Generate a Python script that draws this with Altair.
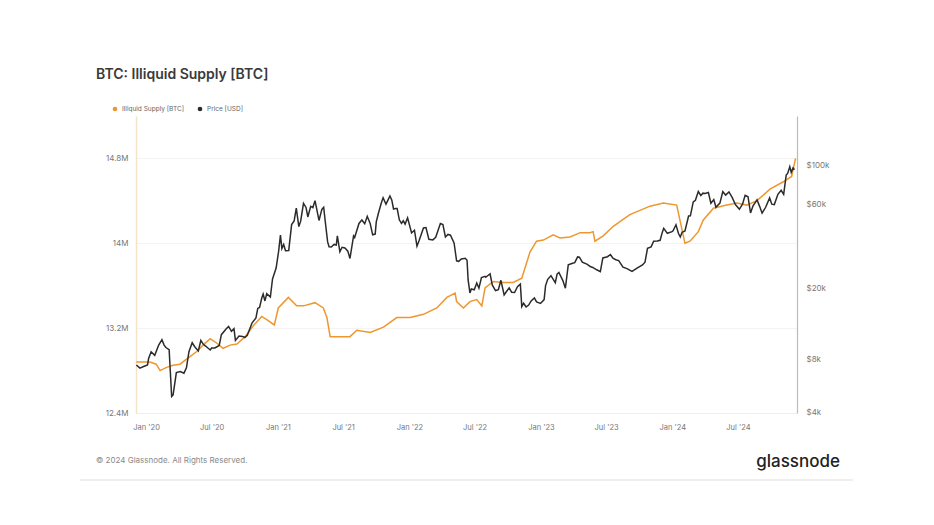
import altair as alt
import pandas as pd

# ---------------- data ----------------
SUPPLY_DATES = ["2019-12-05","2019-12-20","2020-01-12","2020-01-29","2020-02-09","2020-02-27","2020-03-16","2020-04-04","2020-04-27","2020-05-21",
                "2020-06-07","2020-06-27","2020-07-15","2020-08-02","2020-08-21","2020-09-09","2020-10-02","2020-10-24","2020-11-17","2020-12-01",
                "2020-12-22","2021-01-02","2021-01-30","2021-02-22","2021-03-13","2021-04-14","2021-05-07","2021-05-17","2021-05-26","2021-06-13",
                "2021-07-20","2021-08-08","2021-09-14","2021-10-21","2021-11-27","2022-01-03","2022-02-09","2022-03-18","2022-04-15","2022-05-08",
                "2022-05-12","2022-05-31","2022-06-18","2022-07-07","2022-07-21","2022-07-30","2022-08-22","2022-09-19","2022-10-16","2022-11-09",
                "2022-12-02","2022-12-20","2023-01-08","2023-02-04","2023-02-23","2023-03-23","2023-04-20","2023-05-17","2023-05-26","2023-05-31",
                "2023-06-23","2023-07-21","2023-09-05","2023-10-31","2023-12-07","2024-01-13","2024-01-27","2024-02-05","2024-02-19","2024-03-13",
                "2024-03-27","2024-04-24","2024-05-31","2024-06-28","2024-07-25","2024-08-22","2024-09-28","2024-11-04","2024-11-27","2024-12-08"]
SUPPLY_M = [12.88,12.88,12.88,12.86,12.80,12.83,12.85,12.86,12.92,12.98,
            13.04,13.10,13.06,13.01,13.04,13.05,13.12,13.22,13.31,13.28,
            13.23,13.39,13.49,13.41,13.41,13.44,13.39,13.30,13.12,13.12,
            13.12,13.18,13.16,13.21,13.30,13.30,13.33,13.39,13.49,13.53,
            13.45,13.39,13.45,13.47,13.41,13.58,13.64,13.63,13.63,13.67,
            13.92,14.02,14.03,14.08,14.05,14.06,14.10,14.10,14.11,14.02,
            14.07,14.16,14.27,14.35,14.38,14.36,14.14,14.00,14.02,14.11,
            14.22,14.33,14.36,14.38,14.36,14.40,14.51,14.58,14.63,14.80]

PRICE_DATES = ["2019-12-05","2019-12-15","2019-12-25","2020-01-05","2020-01-15","2020-01-25","2020-02-05","2020-02-14","2020-02-25","2020-03-05",
               "2020-03-12","2020-03-16","2020-03-25","2020-04-05","2020-04-15","2020-04-29","2020-05-08","2020-05-15","2020-05-25","2020-06-01",
               "2020-06-15","2020-06-27","2020-07-10","2020-07-22","2020-07-28","2020-08-10","2020-08-17","2020-08-25","2020-09-05","2020-09-15",
               "2020-09-25","2020-10-08","2020-10-21","2020-11-01","2020-11-06","2020-11-17","2020-11-26","2020-12-01","2020-12-11","2020-12-17",
               "2020-12-27","2021-01-03","2021-01-08","2021-01-12","2021-01-22","2021-01-31","2021-02-08","2021-02-21","2021-02-28","2021-03-13",
               "2021-03-25","2021-04-02","2021-04-14","2021-04-25","2021-05-08","2021-05-12","2021-05-19","2021-05-29","2021-06-06","2021-06-15",
               "2021-06-22","2021-07-06","2021-07-20","2021-07-30","2021-08-14","2021-08-22","2021-09-06","2021-09-21","2021-10-01","2021-10-15",
               "2021-10-20","2021-10-28","2021-11-08","2021-11-18","2021-11-28","2021-12-04","2021-12-15","2021-12-27","2022-01-07","2022-01-22",
               "2022-02-09","2022-02-24","2022-03-07","2022-03-28","2022-04-11","2022-04-25","2022-05-05","2022-05-12","2022-05-25","2022-06-05",
               "2022-06-13","2022-06-18","2022-06-30","2022-07-13","2022-07-30","2022-08-13","2022-08-19","2022-09-05","2022-09-12","2022-09-21",
               "2022-10-05","2022-10-20","2022-11-05","2022-11-09","2022-11-21","2022-12-05","2022-12-20","2022-12-31","2023-01-10","2023-01-14",
               "2023-01-29","2023-02-10","2023-02-20","2023-03-10","2023-03-18","2023-03-30","2023-04-13","2023-04-26","2023-05-10","2023-05-25",
               "2023-06-15","2023-06-22","2023-07-13","2023-07-28","2023-08-17","2023-09-11","2023-09-25","2023-10-10","2023-10-24","2023-11-10",
               "2023-11-28","2023-12-08","2023-12-18","2023-12-31","2024-01-11","2024-01-23","2024-02-05","2024-02-15","2024-02-28","2024-03-13",
               "2024-03-20","2024-04-01","2024-04-17","2024-05-01","2024-05-20","2024-06-06","2024-06-24","2024-07-05","2024-07-21","2024-08-05",
               "2024-08-23","2024-09-06","2024-09-27","2024-10-10","2024-10-29","2024-11-05","2024-11-12","2024-11-22","2024-11-26","2024-12-05"]
PRICE_USD = [7400,7100,7250,7400,8800,8400,9600,10300,9300,9050,
             4900,5000,6700,6800,6650,8800,9900,9400,8900,10200,
             9450,9000,9250,9550,11000,11850,12250,11500,10200,10800,
             10750,10900,12800,13700,15500,17700,17100,18800,18000,22800,
             26300,32800,40500,33900,33000,33100,46400,57500,45200,61200,
             51300,58900,63500,49000,58200,49100,37000,34600,35800,40100,
             32500,34200,29800,40000,47100,49300,51700,40600,48100,61500,
             65900,60600,67500,56900,57200,49400,48800,50700,41600,35000,
             44400,38300,38000,47100,39500,40400,36500,28900,29600,29900,
             22500,19000,19800,20200,23600,24400,21100,19800,22400,18500,
             20300,19100,21300,15900,15800,17100,16900,16550,17400,20900,
             23800,21700,24800,20200,27400,28000,30400,28400,27600,26500,
             25100,30000,31400,29300,26600,25200,26300,27400,34000,37300,
             37800,44200,41400,42300,46300,39500,42700,51900,62400,71500,
             67900,69700,61300,58200,71400,71100,60300,56700,68100,54000,
             64100,53900,65800,60300,72700,68900,88600,98900,91900,95000]

# extra in-between price readings (the line is sorted by date when drawn)
PRICE_DATES_B = ["2020-01-08","2020-02-20","2020-04-22","2020-06-08","2020-07-01","2020-09-01","2020-10-01","2020-11-11","2020-11-21",
                 "2021-01-17","2021-02-15","2021-03-05","2021-03-20","2021-04-08","2021-05-03","2021-05-23","2021-06-12","2021-06-28",
                 "2021-07-14","2021-08-02","2021-08-30","2021-09-14","2021-09-28","2021-10-07","2021-11-13","2021-11-24","2021-12-10",
                 "2021-12-20","2022-01-15","2022-01-28","2022-02-16","2022-03-15","2022-04-04","2022-04-18","2022-05-18","2022-06-10",
                 "2022-06-22","2022-07-07","2022-07-20","2022-08-01","2022-08-28","2022-09-28","2022-10-12","2022-10-28","2022-11-14",
                 "2022-11-28","2022-12-14","2023-01-20","2023-02-15","2023-03-03","2023-04-05","2023-04-18","2023-05-18","2023-06-05",
                 "2023-07-05","2023-07-20","2023-08-05","2023-08-28","2023-10-17","2023-11-03","2023-11-20","2023-12-04","2024-01-03",
                 "2024-01-18","2024-01-28","2024-02-20","2024-03-05","2024-03-26","2024-04-10","2024-04-25","2024-05-12","2024-05-28",
                 "2024-06-15","2024-07-14","2024-07-29","2024-08-12","2024-08-30","2024-09-16","2024-10-03","2024-10-20","2024-11-16",
                 "2024-12-01"]
PRICE_USD_B = [8050,9600,7130,9700,9230,11900,10600,15700,18700,
               35800,48700,48400,58100,58000,56600,34700,35500,34500,
               32800,39200,46900,47100,41000,53800,64100,57200,47100,
               46700,43100,37700,44600,39300,46400,40800,28700,29100,
               20000,21600,23200,23300,19600,19400,19150,20600,16600,
               16200,17800,22700,24300,22300,28200,30300,26800,25700,
               30500,29900,29000,26100,28400,34700,37400,41900,42800,
               41300,42000,52000,63800,70000,70600,64300,61500,68300,
               66200,60800,66800,59300,59100,58200,60600,69000,90600,
               97300]

SERIES = ["Illiquid Supply [BTC]", "Price [USD]"]
COLORS = ["#f0962e", "#2b2b2b"]
SUPPLY_TICKS = [12.4e6, 13.2e6, 14.0e6, 14.8e6]
PRICE_TICKS = [4000, 8000, 20000, 60000, 100000]
TITLE = "BTC: Illiquid Supply [BTC]"
FOOTER = "© 2024 Glassnode. All Rights Reserved."
BRAND = "glassnode"

assert len(SUPPLY_DATES) == len(SUPPLY_M)
assert len(PRICE_DATES) == len(PRICE_USD)
assert len(PRICE_DATES_B) == len(PRICE_USD_B)

supply_df = pd.DataFrame({"date": SUPPLY_DATES, "value": [v * 1e6 for v in SUPPLY_M]})
price_df = pd.DataFrame({"date": PRICE_DATES + PRICE_DATES_B, "value": PRICE_USD + PRICE_USD_B})
price_df = price_df.sort_values("date").reset_index(drop=True)

FONT = "Inter"
W, H = 661, 297

x_scale = alt.Scale(type="utc", domain=[alt.DateTime(year=2019, month=12, date=4, utc=True),
                                         alt.DateTime(year=2024, month=12, date=12, utc=True)])
x_ticks = []
for yr in range(2020, 2025):
    x_ticks.append(alt.DateTime(year=yr, month=1, date=1, utc=True))
    x_ticks.append(alt.DateTime(year=yr, month=7, date=1, utc=True))

x_axis = alt.Axis(values=x_ticks, labelExpr="utcFormat(datum.value, \"%b '%y\")", title=None,
                  ticks=False, grid=False, domain=True, domainColor="#eeeeee",
                  labelFont=FONT, labelFontSize=7.5, labelColor="#777777", labelPadding=10)

color_scale = alt.Scale(domain=SERIES, range=COLORS)

supply_line = alt.Chart(supply_df).mark_line(strokeWidth=1.5, interpolate="linear").encode(
    x=alt.X("date:T", scale=x_scale, axis=x_axis),
    y=alt.Y("value:Q", scale=alt.Scale(domain=[12.4e6, 15.2e6], nice=False, zero=False),
            axis=alt.Axis(orient="left", values=SUPPLY_TICKS, format="~s", title=None, ticks=False,
                          domainColor="#f5e3c8", domainWidth=1.5, gridColor="#f3f3f3",
                          labelFont=FONT, labelFontSize=8, labelColor="#777777", labelPadding=8)),
    color=alt.Color("s:N", scale=color_scale, legend=None),
).transform_calculate(s=f"'{SERIES[0]}'")

price_line = alt.Chart(price_df).mark_line(strokeWidth=1.5, interpolate="linear").encode(
    x=alt.X("date:T", scale=x_scale, axis=x_axis),
    y=alt.Y("value:Q", scale=alt.Scale(type="log", domain=[3950, 192000], nice=False),
            axis=alt.Axis(orient="right", values=PRICE_TICKS,
                          labelExpr="'$' + format(datum.value / 1000, 'd') + 'k'", title=None, ticks=False,
                          domainColor="#bbbbbb", domainWidth=1.2, gridColor="#f3f3f3",
                          labelFont=FONT, labelFontSize=8, labelColor="#777777", labelPadding=9)),
    color=alt.Color("s:N", scale=color_scale, legend=None),
).transform_calculate(s=f"'{SERIES[1]}'")

# legend (dots coloured through the shared colour scale)
legend_layers = []
for name, dot_x in zip(SERIES, [-21, 64]):
    ldf = pd.DataFrame({"s": [name]})
    legend_layers.append(alt.Chart(ldf).mark_circle(size=22, opacity=1).encode(
        x=alt.value(dot_x), y=alt.value(-7), color=alt.Color("s:N", scale=color_scale, legend=None)))
    legend_layers.append(alt.Chart(ldf).mark_text(
        align="left", baseline="middle", font=FONT, fontSize=6.5, color="#666666"
    ).encode(text="s:N", x=alt.value(dot_x + 7), y=alt.value(-7)))

title_txt = alt.Chart(pd.DataFrame({"t": [TITLE]})).mark_text(
    align="left", baseline="alphabetic", font=FONT, fontSize=14, fontWeight=600, color="#3a3a3a"
).encode(text="t:N", x=alt.value(-40), y=alt.value(-37))

footer_txt = alt.Chart(pd.DataFrame({"t": [FOOTER]})).mark_text(
    align="left", baseline="middle", font=FONT, fontSize=8, color="#8a8a8a"
).encode(text="t:N", x=alt.value(-40), y=alt.value(345))

brand_txt = alt.Chart(pd.DataFrame({"t": [BRAND]})).mark_text(
    align="right", baseline="alphabetic", font=FONT, fontSize=17, fontWeight=500, color="#222222"
).encode(text="t:N", x=alt.value(704), y=alt.value(351))

footer_rule = alt.Chart(pd.DataFrame({"a": [0]})).mark_rule(color="#dddddd", strokeWidth=1).encode(
    x=alt.value(-56), x2=alt.value(717), y=alt.value(364))

lines = alt.layer(supply_line, price_line).resolve_scale(y="independent")

chart = alt.layer(lines, *legend_layers, title_txt, footer_txt, brand_txt, footer_rule).properties(
    width=W, height=H,
    background="white",
    autosize=alt.AutoSizeParams(type="none"),
    padding={"left": 128, "top": 108, "right": 129, "bottom": 104},
).configure_view(stroke=None)

chart.save("out.html", embed_options={"renderer": "svg", "actions": False})
